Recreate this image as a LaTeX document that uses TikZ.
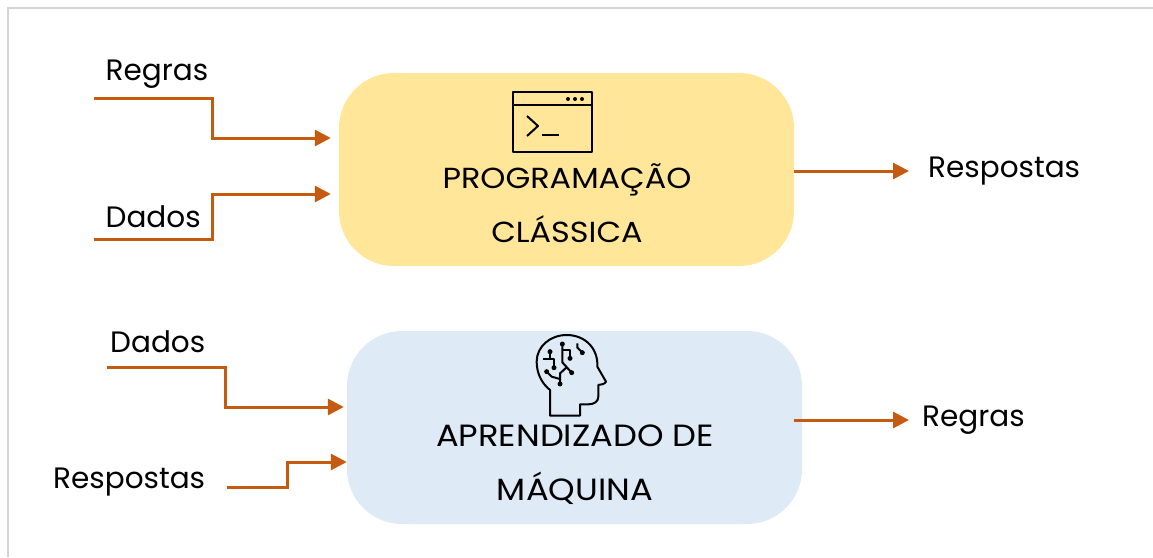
\documentclass[tikz,border=0pt]{standalone}
\usepackage{fontspec}
\setmainfont{Poppins}
\newfontfamily\titlefont[FakeStretch=1.1]{Poppins}
\usetikzlibrary{arrows.meta,positioning}
\definecolor{flowc}{HTML}{C55A11}
\definecolor{progc}{HTML}{FFE699}
\definecolor{mlc}{HTML}{DEEAF6}
\definecolor{framec}{HTML}{D4D4D4}
\tikzset{
    %Define standard arrow tip
    >={Triangle[length=16pt,width=16pt]},
    %Define style for boxes
    progbox/.style={
           rectangle,
           rounded corners=55pt,
           minimum width=455pt,
           minimum height=193pt,
           fill=progc},
    mlbox/.style={
           progbox,
           fill=mlc},
    title/.style={
           align=center,
           font=\titlefont\fontsize{29}{54}\selectfont,
           inner sep=0pt},
    mltitle/.style={
           title,
           font=\titlefont\fontsize{30.7}{54}\selectfont},
    lbl/.style={
           anchor=base west,
           font=\fontsize{29.5}{32}\selectfont,
           inner sep=0pt},
    % Define arrow style
    flow/.style={
           ->,
           draw=flowc,
           line width=3pt},
    icon/.style={
           draw=black,
           line width=2pt,
           line join=round}
}

\begin{document}
\begin{tikzpicture}[x=1pt,y=-1pt]
\useasboundingbox (0,0) rectangle (1153,557);
\draw[framec,line width=2pt] (8,557) |- (1153,8);
% boxes
\node[progbox](prog) at (566.5,169.5){};
\node[mlbox](ml) at (574.5,427.5){};
\node[title] at (567,203){PROGRAMAÇÃO\\CLÁSSICA};
\node[mltitle] at (575,465){APRENDIZADO DE\\MÁQUINA};
% labels
\node[lbl](regrasin) at (105.5,80){Regras};
\node[lbl](dadosin) at (105.5,227){Dados};
\node[lbl](dadosml) at (110,352){Dados};
\node[lbl](respml) at (53,488){Respostas};
\node[lbl](respout) at (928,177){Respostas};
\node[lbl](regrasout) at (922,426){Regras};
% free ends of the connectors
\coordinate (a1) at (94,98);
\coordinate (a2) at (212,138);
\coordinate (b1) at (94,239);
\coordinate (b2) at (212,194);
\coordinate (c1) at (107,367);
\coordinate (c2) at (225,407);
\coordinate (d1) at (227,487);
\coordinate (d2) at (287,462);
\coordinate (e1) at (794,171);
\coordinate (f1) at (802,420);
\draw[flow,shorten >=8pt] (a1) -| (a2) -- (a2 -| prog.west);
\draw[flow,shorten >=8pt] (b1) -| (b2) -- (b2 -| prog.west);
\draw[flow,shorten >=3pt] (c1) -| (c2) -- (c2 -| ml.west);
\draw[flow] (d1) -| (d2) -- (d2 -| ml.west);
\draw[flow,shorten >=19pt] (e1) -- (e1 -| respout.west);
\draw[flow,shorten <=-8pt,shorten >=13pt] (f1) -- (f1 -| regrasout.west);
% terminal icon
\draw[icon] (513,92) rectangle (592,152);
\draw[icon] (513,105) -- (592,105);
\foreach \x in {568,575,582}
    \fill (\x,99) circle (2pt);
\draw[icon] (527,116) -- (538,126) -- (527,136);
\draw[icon] (542,135) -- (559,135);
% head icon
\begin{scope}[shift={(520,325)},x=0.3333pt,y=-0.3333pt]
\draw[icon] (90,272) -- (90,195) .. controls (65,175) and (50,145) .. (50,110)
    .. controls (50,65) and (90,30) .. (140,30)
    .. controls (195,30) and (235,70) .. (232,125)
    -- (258,170) .. controls (255,176) and (245,180) .. (235,180)
    -- (235,215) .. controls (235,230) and (222,238) .. (205,238)
    -- (180,238) -- (180,272) -- cycle;
\draw[icon] (90,80) -- (90,102) (70,102) -- (102,102) -- (102,128);
\draw[icon] (127,57) -- (127,112) -- (155,143);
\draw[icon] (127,75) -- (150,75) -- (150,100);
\draw[icon] (140,127) -- (120,145) -- (120,177);
\draw[icon] (80,140) -- (95,155) -- (120,162);
\draw[icon] (172,55) -- (172,68) -- (187,83);
\foreach \p in {(90,80),(102,128),(127,57),(150,100),(155,143),(120,177),(80,140),(187,83)}
    \fill \p circle (7.5);
\end{scope}
\end{tikzpicture}
\end{document}
